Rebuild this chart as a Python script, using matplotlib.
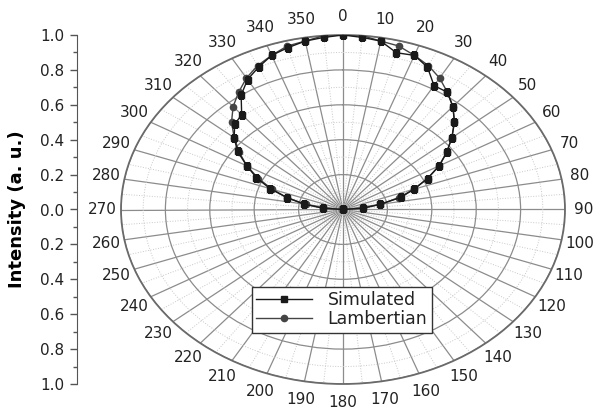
import numpy as np
import matplotlib.pyplot as plt

# emission angle in degrees, 0 = surface normal
angles = [-90, -85, -80, -75, -70, -65, -60, -55, -50, -45, -40, -35, -30,
          -25, -20, -15, -10, -5, 0, 5, 10, 15, 20, 25, 30, 35, 40, 45, 50,
          55, 60, 65, 70, 75, 80, 85, 90]

simulated = [0.00, 0.09, 0.18, 0.26, 0.35, 0.43, 0.50, 0.58, 0.64, 0.69,
             0.71, 0.80, 0.86, 0.90, 0.94, 0.96, 0.98, 0.99, 1.00, 0.99,
             0.98, 0.93, 0.94, 0.90, 0.82, 0.82, 0.77, 0.71, 0.64, 0.57,
             0.50, 0.42, 0.34, 0.27, 0.17, 0.09, 0.00]

lambertian = [0.00, 0.09, 0.17, 0.26, 0.34, 0.42, 0.50, 0.57, 0.64, 0.71,
              0.77, 0.82, 0.87, 0.91, 0.94, 0.97, 0.98, 1.00, 1.00, 1.00,
              0.98, 0.97, 0.94, 0.91, 0.87, 0.82, 0.77, 0.71, 0.64, 0.57,
              0.50, 0.42, 0.34, 0.26, 0.17, 0.09, 0.00]

theta_labels = [str(a) for a in range(0, 360, 10)]
r_ticks = [0.2, 0.4, 0.6, 0.8, 1.0]
intensity_ticks = [-1.0, -0.8, -0.6, -0.4, -0.2, 0.0, 0.2, 0.4, 0.6, 0.8, 1.0]
intensity_labels = ['1.0', '0.8', '0.6', '0.4', '0.2', '0.0',
                    '0.2', '0.4', '0.6', '0.8', '1.0']

plt.rcParams['font.family'] = 'DejaVu Sans'
plt.rcParams['text.color'] = '#222222'

fig = plt.figure(figsize=(6.05, 4.11), dpi=100)

# polar plot, squashed into an ellipse
ax = fig.add_axes([121 / 605, 27 / 411, 444 / 605, 349 / 411], projection='polar')
ax.set_aspect('auto')
ax.set_theta_zero_location('N')
ax.set_theta_direction(-1)
ax.set_ylim(0, 1)

th = np.deg2rad(angles)
ax.plot(th, simulated, '-s', color='#1a1a1a', ms=4.5, lw=1.0, label='Simulated', zorder=5)
ax.plot(th, lambertian, '-o', color='#444444', ms=4.5, lw=1.0, label='Lambertian', zorder=4)

ax.set_xticks(np.deg2rad(np.arange(0, 360, 10)))
ax.set_xticklabels(theta_labels, fontsize=11, color='#222222')
ax.set_xticks(np.deg2rad(np.arange(5, 360, 10)), minor=True)
ax.set_yticks(r_ticks)
ax.set_yticklabels([])
ax.set_yticks([0.1, 0.3, 0.5, 0.7, 0.9], minor=True)
ax.grid(which='major', color='#8c8c8c', lw=0.9, ls='-')
ax.grid(which='minor', color='#c8c8c8', lw=0.7, ls=':')
ax.tick_params(axis='x', pad=3, colors='#666666', labelcolor='#222222')
ax.spines['polar'].set_color('#6a6a6a')
ax.spines['polar'].set_linewidth(1.3)

ax.legend(loc='upper left', bbox_to_anchor=(252 / 605, 1 - 287 / 411),
          bbox_transform=fig.transFigure, fancybox=False, edgecolor='#333333',
          framealpha=1, fontsize=12.5, borderpad=0.25, labelspacing=0.05,
          handlelength=3.2, handletextpad=0.9, borderaxespad=0)

# linear intensity scale on the left
ay = fig.add_axes([77 / 605, 27 / 411, 0.001, 349 / 411])
ay.set_facecolor('none')
ay.set_ylim(-1, 1)
ay.set_yticks(intensity_ticks)
ay.set_yticklabels(intensity_labels, fontsize=11)
ay.set_yticks(np.arange(-0.9, 1.0, 0.2), minor=True)
ay.tick_params(axis='y', which='major', length=5, width=1, pad=4, colors='#555555',
               labelcolor='#222222')
ay.tick_params(axis='y', which='minor', length=3, width=1, colors='#555555')
ay.get_xaxis().set_visible(False)
for s in ('top', 'right', 'bottom'):
    ay.spines[s].set_visible(False)
ay.spines['left'].set_color('#555555')
ay.set_ylabel('Intensity (a. u.)', fontsize=13, fontweight='bold', labelpad=10)

fig.savefig('out.png', dpi=100)
